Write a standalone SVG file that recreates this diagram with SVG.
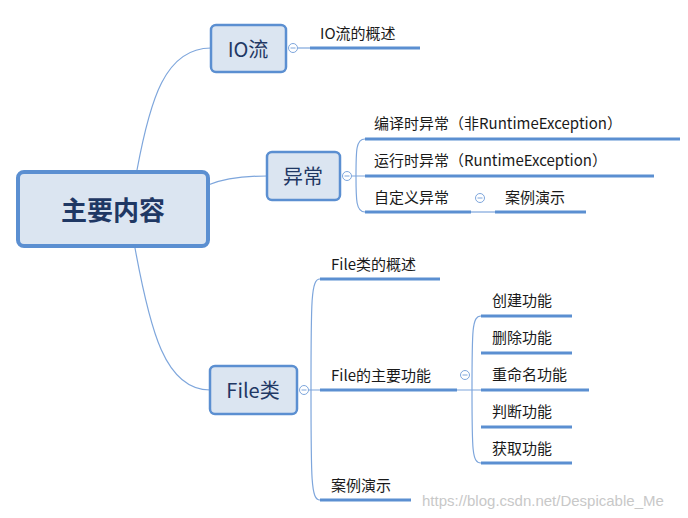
<svg xmlns="http://www.w3.org/2000/svg" width="688" height="518" viewBox="0 0 688 518">
<style>
.n{fill:#dbe5f1;stroke:#5b8fd1;stroke-width:2.5}
.t{font-family:"Noto Sans CJK SC","Liberation Sans",sans-serif;fill:#1a1a1a}
.u{stroke:#5b8fd1;stroke-width:3;fill:none}
.c{stroke:#7ea6dc;stroke-width:1.2;fill:none}
.k{fill:#fff;stroke:#7ea6dc;stroke-width:1}
</style>
<rect width="688" height="518" fill="#fff"/>
<g id="connectors">
<path class="c" d="M137,170 C150,100 165,48 211,48"/>
<path class="c" d="M208,185 C225,178 245,176 267,176"/>
<path class="c" d="M135,248 C150,330 165,390 210,390"/>
<path class="c" d="M298,48 H310"/>
<path class="c" d="M352,176 H365 M365,139 C356,139 356,150 356,176 C356,200 356,212 365,212"/>
<path class="c" d="M471,212 H495"/>
<path class="c" d="M309,390 H320 M320,279 C311,279 311,300 311,390 C311,480 311,500 320,500"/>
<path class="c" d="M457,390 H481 M481,316 C472,316 472,330 472,390 C472,450 472,463 481,463"/>
<path class="u" d="M310,48 H420"/>
<path class="u" d="M365,139 H680 M365,176 H654 M365,212 H471 M495,212 H586"/>
<path class="u" d="M320,279 H440 M320,390 H457 M320,500 H411"/>
<path class="u" d="M481,316 H572 M481,353 H572 M481,390 H589 M481,427 H572 M481,463 H572"/>
</g>
<g id="center"><rect x="18" y="172" width="190" height="74" rx="6" fill="#dbe5f1" stroke="#5b8fd1" stroke-width="4"/><text class="t" x="113" y="220" font-size="26" font-weight="bold" text-anchor="middle" fill="#1f3864" style="fill:#1f3864">主要内容</text></g>
<g id="io"><rect class="n" x="211" y="25" width="75" height="47" rx="5"/><text class="t" x="248" y="57" font-size="20" text-anchor="middle" style="fill:#1f3864">IO流</text><circle class="k" cx="293" cy="48" r="4.5"/><path d="M290.5,48 H295.5" stroke="#7ea6dc"/><text class="t" x="320" y="39" font-size="15">IO流的概述</text></g>
<g id="exc"><rect class="n" x="267" y="152" width="73" height="48" rx="5"/><text class="t" x="303" y="184" font-size="20" text-anchor="middle" style="fill:#1f3864">异常</text><circle class="k" cx="347" cy="176" r="4.5"/><path d="M344.5,176 H349.5" stroke="#7ea6dc"/>
<text class="t" x="374" y="129" font-size="15">编译时异常（非RuntimeException）</text>
<text class="t" x="374" y="166" font-size="15">运行时异常（RuntimeException）</text>
<text class="t" x="374" y="203" font-size="15">自定义异常</text>
<circle class="k" cx="480" cy="198" r="4.5"/><path d="M477.5,198 H482.5" stroke="#7ea6dc"/>
<text class="t" x="505" y="203" font-size="15">案例演示</text></g>
<g id="file"><rect class="n" x="210" y="366" width="87" height="48" rx="5"/><text class="t" x="253" y="398" font-size="20" text-anchor="middle" style="fill:#1f3864">File类</text><circle class="k" cx="304" cy="390" r="4.5"/><path d="M301.5,390 H306.5" stroke="#7ea6dc"/>
<text class="t" x="331" y="270" font-size="15">File类的概述</text>
<text class="t" x="331" y="381" font-size="15">File的主要功能</text>
<text class="t" x="331" y="491" font-size="15">案例演示</text>
<circle class="k" cx="465" cy="375" r="4.5"/><path d="M462.5,375 H467.5" stroke="#7ea6dc"/>
<text class="t" x="492" y="306" font-size="15">创建功能</text>
<text class="t" x="492" y="343" font-size="15">删除功能</text>
<text class="t" x="492" y="380" font-size="15">重命名功能</text>
<text class="t" x="492" y="417" font-size="15">判断功能</text>
<text class="t" x="492" y="454" font-size="15">获取功能</text></g>
<text x="422" y="506" font-family="Liberation Sans,sans-serif" font-size="15" fill="#c8c8c8">https://blog.csdn.net/Despicable_Me</text>
</svg>
